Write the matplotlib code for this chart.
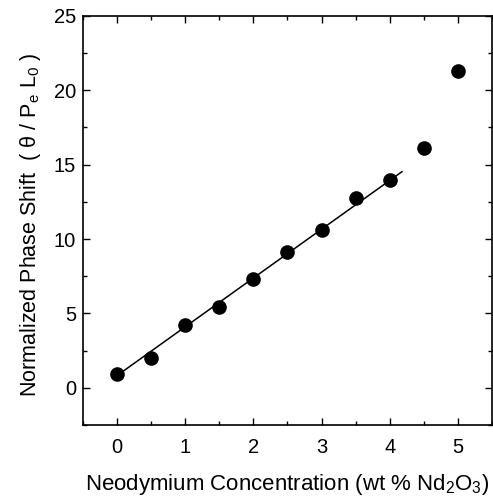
import matplotlib
matplotlib.use('Agg')
import matplotlib.pyplot as plt
import numpy as np
from matplotlib.ticker import MultipleLocator

plt.rcParams['font.family'] = ['Liberation Sans', 'DejaVu Sans']
plt.rcParams['mathtext.fontset'] = 'custom'
plt.rcParams['mathtext.rm'] = 'Liberation Sans'
plt.rcParams['mathtext.it'] = 'Liberation Sans:italic'

# measured data
conc = [0, 0.5, 1.0, 1.5, 2.0, 2.5, 3.0, 3.5, 4.0, 4.5, 5.0]
phase = [0.94, 2.03, 4.23, 5.46, 7.29, 9.13, 10.6, 12.75, 13.96, 16.1, 21.3]

# linear fit over the low-concentration range
fit_range = [0.0, 4.18]
fit_slope = 3.28
fit_intercept = 0.82

fig = plt.figure(figsize=(4.93, 4.96), dpi=100)
ax = fig.add_axes([0.168, 0.143, 0.83, 0.825])

fx = np.array(fit_range)
ax.plot(fx, fit_intercept + fit_slope * fx, color='black', lw=1.1)
ax.plot(conc, phase, 'o', color='black', ms=9.5)

ax.set_xlim(-0.5, 5.5)
ax.set_ylim(-2.5, 25)
ax.xaxis.set_major_locator(MultipleLocator(1))
ax.xaxis.set_minor_locator(MultipleLocator(0.5))
ax.yaxis.set_major_locator(MultipleLocator(5))
ax.yaxis.set_minor_locator(MultipleLocator(2.5))
ax.tick_params(which='both', direction='in', top=True, right=True,
               labelsize=14.5, width=1.0)
ax.tick_params(which='major', length=5)
ax.tick_params(which='minor', length=3)
ax.tick_params(axis='x', which='major', pad=9)
ax.tick_params(axis='y', which='major', pad=5)
for s in ax.spines.values():
    s.set_linewidth(1.2)

ax.set_xlabel(r'Neodymium Concentration (wt % Nd$_2$O$_3$)', fontsize=16, labelpad=11)
ax.set_ylabel(r'Normalized Phase Shift  ( θ / P$_{\rm e}$ L$_0$ )', fontsize=15.5)
ax.yaxis.set_label_coords(-0.098, 0.49)

fig.savefig('out.png', dpi=100)
